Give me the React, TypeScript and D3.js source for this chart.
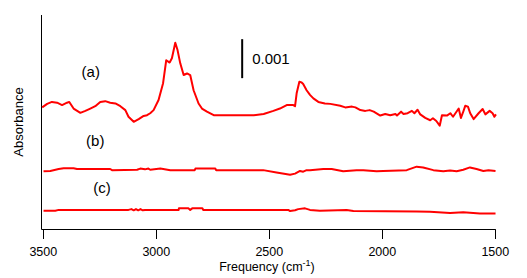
import * as d3 from 'd3';

// Spectra: [frequency cm-1, absorbance in units of 0.001]
const specA: [number, number][] = [
  [3505, 3.12], [3483, 3.21], [3462, 3.26], [3439, 3.24], [3417, 3.18], [3395, 3.24],
  [3385, 3.26], [3366, 3.09], [3336, 2.98], [3314, 3.03], [3292, 3.09], [3270, 3.15],
  [3248, 3.26], [3226, 3.28], [3204, 3.24], [3181, 3.22], [3159, 3.15], [3137, 3.05],
  [3123, 2.88], [3100, 2.75], [3078, 2.82], [3056, 2.9], [3041, 2.92], [3027, 2.97],
  [3012, 3.05], [2990, 3.31], [2970, 3.74], [2956, 4.33], [2941, 4.27], [2931, 4.38],
  [2916, 4.78], [2906, 4.59], [2894, 4.25], [2879, 3.95], [2864, 3.99], [2850, 3.95],
  [2835, 3.56], [2813, 3.22], [2798, 3.09], [2776, 3.01], [2746, 2.92], [2717, 2.92],
  [2650, 2.92], [2569, 2.92], [2525, 2.95], [2482, 3.03], [2453, 3.09], [2423, 3.18],
  [2394, 3.18], [2386, 3.15], [2379, 3.48], [2367, 3.78], [2357, 3.76], [2350, 3.72],
  [2335, 3.56], [2320, 3.44], [2305, 3.35], [2283, 3.26], [2254, 3.22], [2230, 3.21],
  [2186, 3.16], [2164, 3.12], [2134, 3.14], [2119, 3.12], [2097, 3.05], [2075, 3.03],
  [2056, 3.05], [2038, 3.01], [2009, 2.91], [1987, 2.95], [1965, 2.92], [1942, 2.95],
  [1935, 2.91], [1917, 3.01], [1906, 2.95], [1888, 2.97], [1869, 3.03], [1858, 2.97],
  [1844, 3.06], [1832, 2.94], [1810, 2.85], [1788, 2.79], [1776, 2.84], [1761, 2.77],
  [1746, 2.65], [1736, 2.92], [1714, 2.91], [1699, 2.97], [1687, 2.88], [1662, 3.09],
  [1652, 2.85], [1643, 2.99], [1633, 3.16], [1621, 3.14], [1611, 2.97], [1596, 2.82],
  [1574, 2.97], [1556, 3.08], [1544, 2.94], [1525, 3.03], [1512, 2.97], [1504, 2.88],
  [1497, 2.94],
];

const specB: [number, number][] = [
  [3499, 1.48], [3469, 1.49], [3432, 1.54], [3410, 1.56], [3366, 1.56], [3351, 1.54],
  [3204, 1.54], [3196, 1.51], [3085, 1.52], [3071, 1.55], [3050, 1.53], [3035, 1.55],
  [3027, 1.52], [2982, 1.55], [2938, 1.51], [2830, 1.51], [2827, 1.55], [2739, 1.55],
  [2735, 1.51], [2527, 1.51], [2468, 1.45], [2408, 1.39], [2386, 1.42], [2364, 1.49],
  [2350, 1.47], [2335, 1.51], [2320, 1.51], [2261, 1.54], [2224, 1.54], [2173, 1.48],
  [2114, 1.51], [2084, 1.51], [2025, 1.48], [1996, 1.49], [1892, 1.51], [1848, 1.6],
  [1819, 1.58], [1774, 1.51], [1730, 1.48], [1700, 1.5], [1671, 1.48], [1642, 1.52],
  [1612, 1.58], [1583, 1.54], [1553, 1.49], [1530, 1.51], [1499, 1.49],
];

const specC: [number, number][] = [
  [3499, 0.47], [3447, 0.47], [3432, 0.49], [3123, 0.49], [3110, 0.51], [3100, 0.48],
  [3090, 0.51], [3080, 0.48], [3070, 0.51], [3060, 0.48], [3050, 0.49], [2901, 0.49],
  [2900, 0.53], [2858, 0.53], [2850, 0.49], [2841, 0.53], [2796, 0.53], [2792, 0.49],
  [2522, 0.49], [2416, 0.49], [2408, 0.46], [2386, 0.48], [2372, 0.51], [2342, 0.53],
  [2320, 0.49], [2276, 0.47], [2158, 0.49], [2128, 0.46], [1848, 0.45], [1789, 0.44],
  [1700, 0.41], [1642, 0.43], [1568, 0.4], [1499, 0.4],
];

const xTicks = [3500, 3000, 2500, 2000, 1500];

const labels = [
  { text: '(a)', f: 3290, v: 3.9 },
  { text: '(b)', f: 3270, v: 2.12 },
  { text: '(c)', f: 3240, v: 0.92 },
];

// scale bar: 0.001 absorbance
const barFreq = 2620;
const barFrom = 3.87;

const width = 527;
const height = 278;

export default function App() {
  const x = d3.scaleLinear().domain([3500, 1500]).range([43.3, 495.3]);
  const y = d3.scaleLinear().domain([0, 5.49]).range([229, 15]);
  const line = d3.line<[number, number]>()
    .x(d => x(d[0]))
    .y(d => y(d[1]));

  const font = 'Arial, "Liberation Sans", sans-serif';
  const axisY = 229.5;
  const axisX = 41.5;

  return (
    <svg width={width} height={height} style={{ position: 'absolute', left: 0, top: 0, background: '#fff' }}
      fontFamily={font}>
      {/* axes */}
      <line x1={axisX} x2={axisX} y1={15} y2={axisY} stroke="#000" strokeWidth={1} />
      <line x1={axisX} x2={x(1500) + 0.5} y1={axisY} y2={axisY} stroke="#000" strokeWidth={1} />
      {xTicks.map(t => (
        <g key={t}>
          <line x1={Math.round(x(t)) + 0.5} x2={Math.round(x(t)) + 0.5} y1={axisY} y2={239} stroke="#000" />
          <text x={x(t)} y={255.5} fontSize={12.5} textAnchor="middle">{t}</text>
        </g>
      ))}
      <text x={267} y={271} fontSize={12.5} textAnchor="middle">
        Frequency (cm<tspan dy={-5} fontSize={9}>-1</tspan><tspan dy={5}>)</tspan>
      </text>
      <text transform="translate(23,122) rotate(-90)" fontSize={13} textAnchor="middle">Absorbance</text>

      {/* spectra */}
      {[specA, specB, specC].map((s, i) => (
        <path key={i} d={line(s) || ''} fill="none" stroke="#ff0000" strokeWidth={2} strokeLinejoin="round" />
      ))}
      {labels.map(l => (
        <text key={l.text} x={x(l.f)} y={y(l.v)} fontSize={15} textAnchor="middle">{l.text}</text>
      ))}

      {/* scale bar */}
      <line x1={x(barFreq)} x2={x(barFreq)} y1={y(barFrom)} y2={y(barFrom + 1)} stroke="#000" strokeWidth={2} />
      <text x={x(barFreq) + 10} y={63.5} fontSize={15}>0.001</text>
    </svg>
  );
}
